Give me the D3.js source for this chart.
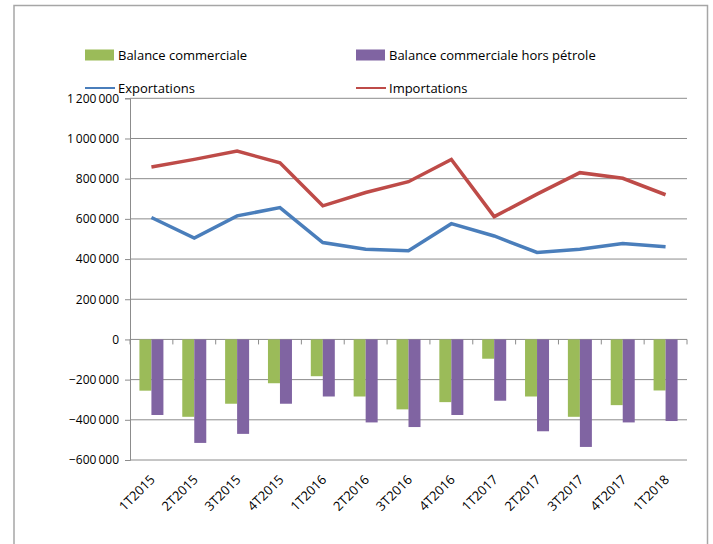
<!DOCTYPE html>
<html>
<head>
<meta charset="utf-8">
<script src="https://cdn.jsdelivr.net/npm/d3@7"></script>
<style>
body { margin:0; background:#fff; }
text { font-family: "Open Sans", sans-serif; font-size:12px; fill:#000; }
</style>
</head>
<body>
<div id="chart"></div>
<script>
var categories = ["1T2015","2T2015","3T2015","4T2015","1T2016","2T2016","3T2016","4T2016","1T2017","2T2017","3T2017","4T2017","1T2018"];
var balance = [-255000,-385000,-320000,-218000,-183000,-284000,-348000,-312000,-96000,-284000,-385000,-327000,-254000];
var balanceHorsPetrole = [-376000,-515000,-470000,-320000,-284000,-413000,-436000,-376000,-305000,-457000,-535000,-413000,-406000];
var exportations = [607000,505000,615000,656000,482000,449000,441000,576000,515000,433000,449000,477000,461000];
var importations = [858000,896000,937000,879000,665000,731000,785000,896000,611000,723000,830000,802000,720000];
var yTicks = [-600000,-400000,-200000,0,200000,400000,600000,800000,1000000,1200000];

function init(){
    var w = 713;
    var h = 544;
    var left = 130, right = 687, top = 98.3, bottom = 460;

    var svg = d3.select("#chart")
            .append("svg")
            .attr("width", w)
            .attr("height", h);

    // outer frame
    svg.append("rect")
        .attr("x", 14).attr("y", 5.5)
        .attr("width", 693.5).attr("height", 560)
        .attr("fill", "none")
        .attr("stroke", "#a6a6a6")
        .attr("stroke-width", 1.5);

    var xScale = d3.scaleBand()
            .domain(categories)
            .range([left, right]);

    var yScale = d3.scaleLinear()
            .domain([-600000, 1200000])
            .range([bottom, top]);

    var fmt = function(d){
        return d3.format(",")(d).replace(/,/g, "\u2009");
    };

    // grid lines
    svg.selectAll(".grid")
        .data(yTicks)
        .enter()
        .append("line")
        .attr("x1", left).attr("x2", right)
        .attr("y1", function(d){ return yScale(d); })
        .attr("y2", function(d){ return yScale(d); })
        .attr("stroke", "#8c8c8c")
        .attr("stroke-width", 1);

    // y axis
    var yAxis = d3.axisLeft(yScale)
            .tickValues(yTicks)
            .tickSize(5)
            .tickPadding(6)
            .tickFormat(fmt);
    var gy = svg.append("g")
        .attr("transform", "translate(" + left + ",0)")
        .call(yAxis);
    gy.select(".domain").attr("stroke", "#8c8c8c");
    gy.selectAll(".tick line").attr("stroke", "#8c8c8c");
    gy.selectAll("text").style("font-size", "12px").attr("fill", "#000");

    // bars
    var bw = 12;
    svg.selectAll(".barA")
        .data(balance)
        .enter()
        .append("rect")
        .attr("x", function(d, i){ return xScale(categories[i]) + xScale.bandwidth()/2 - bw; })
        .attr("y", yScale(0))
        .attr("width", bw)
        .attr("height", function(d){ return yScale(d) - yScale(0); })
        .attr("fill", "#9bbb59");

    svg.selectAll(".barB")
        .data(balanceHorsPetrole)
        .enter()
        .append("rect")
        .attr("x", function(d, i){ return xScale(categories[i]) + xScale.bandwidth()/2; })
        .attr("y", yScale(0))
        .attr("width", bw)
        .attr("height", function(d){ return yScale(d) - yScale(0); })
        .attr("fill", "#8064a2");

    // x axis at zero, ticks between categories
    var bounds = categories.map(function(c){ return xScale(c); }).concat([right]);
    svg.selectAll(".xtick")
        .data(bounds)
        .enter()
        .append("line")
        .attr("x1", function(d){ return d; })
        .attr("x2", function(d){ return d; })
        .attr("y1", yScale(0))
        .attr("y2", yScale(0) + 5)
        .attr("stroke", "#8c8c8c");

    svg.selectAll(".xlabel")
        .data(categories)
        .enter()
        .append("text")
        .attr("text-anchor", "end")
        .attr("transform", function(d){
            return "translate(" + (xScale(d) + xScale.bandwidth()/2 - 2) + "," + (bottom + 14) + ") rotate(-45)";
        })
        .attr("dy", "0.7em")
        .style("font-size", "13px")
        .text(function(d){ return d; });

    // lines
    var line = d3.line()
            .x(function(d, i){ return xScale(categories[i]) + xScale.bandwidth()/2; })
            .y(function(d){ return yScale(d); });

    svg.append("path")
        .datum(importations)
        .attr("d", line)
        .attr("fill", "none")
        .attr("stroke", "#be4b48")
        .attr("stroke-width", 3.5);

    svg.append("path")
        .datum(exportations)
        .attr("d", line)
        .attr("fill", "none")
        .attr("stroke", "#4a7ebb")
        .attr("stroke-width", 3.5);

    // legend
    var legend = [
        {name:"Balance commerciale", color:"#9bbb59", type:"rect", x:85, y:55},
        {name:"Balance commerciale hors pétrole", color:"#8064a2", type:"rect", x:356, y:55},
        {name:"Exportations", color:"#4a7ebb", type:"line", x:85, y:88},
        {name:"Importations", color:"#be4b48", type:"line", x:356, y:88}
    ];
    legend.forEach(function(l){
        if (l.type == "rect") {
            svg.append("rect")
                .attr("x", l.x).attr("y", l.y - 5.5)
                .attr("width", 29).attr("height", 11)
                .attr("fill", l.color);
        } else {
            svg.append("line")
                .attr("x1", l.x).attr("x2", l.x + 30)
                .attr("y1", l.y).attr("y2", l.y)
                .attr("stroke", l.color)
                .attr("stroke-width", 2);
        }
        svg.append("text")
            .attr("x", l.x + 33)
            .attr("y", l.y)
            .attr("dy", "0.35em")
            .style("font-size", "13px")
            .text(l.name);
    });
}

window.onload = init;
</script>
</body>
</html>
